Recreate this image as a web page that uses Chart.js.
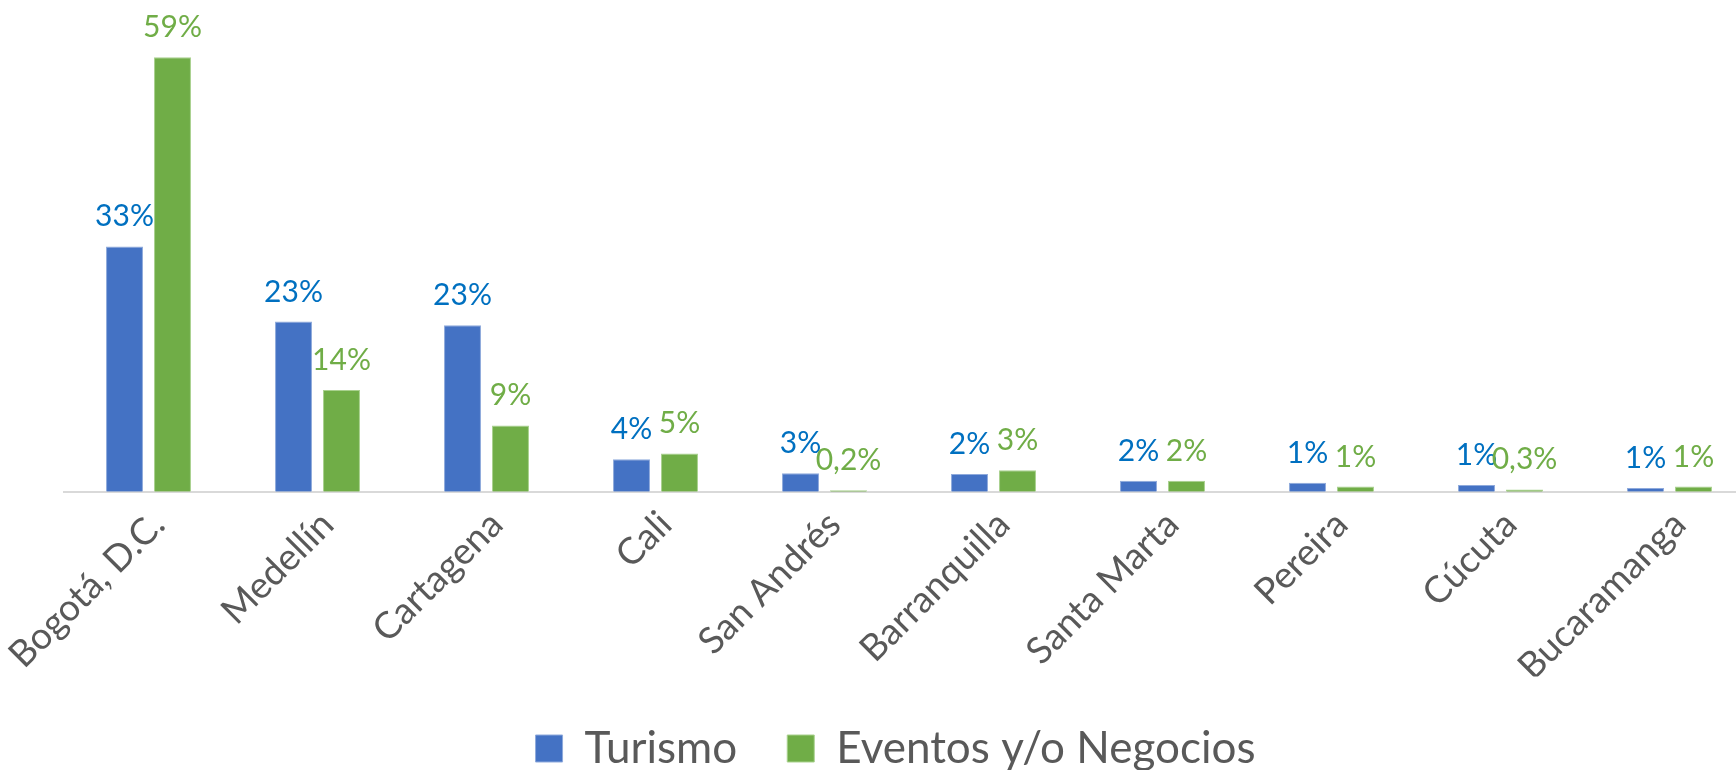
<!DOCTYPE html>
<html lang="es">
<head>
    <meta charset="UTF-8">
    <title>Turismo vs Eventos y/o Negocios</title>
    <script src="https://cdn.jsdelivr.net/npm/chart.js"></script>
    <style>
        html, body {
            margin: 0;
            padding: 0;
            background: #ffffff;
            overflow: hidden;
        }
        .wrap {
            position: relative;
            width: 1754px;
            height: 770px;
        }
    </style>
</head>
<body>
    <div class="wrap">
        <canvas id="cityChart"></canvas>
    </div>

    <script>
        const cities = ["Bogotá, D.C.", "Medellín", "Cartagena", "Cali", "San Andrés", "Barranquilla", "Santa Marta", "Pereira", "Cúcuta", "Bucaramanga"];
        const turismo = [33.3, 23.1, 22.6, 4.4, 2.5, 2.4, 1.5, 1.2, 0.9, 0.5];
        const eventos = [59.0, 13.8, 9.0, 5.2, 0.2, 2.9, 1.5, 0.7, 0.3, 0.7];
        const turismoLabels = ["33%", "23%", "23%", "4%", "3%", "2%", "2%", "1%", "1%", "1%"];
        const eventosLabels = ["59%", "14%", "9%", "5%", "0,2%", "3%", "2%", "1%", "0,3%", "1%"];

        const FONT = "Lato, 'Open Sans', sans-serif";

        // value labels above each bar
        const barLabels = {
            id: "barLabels",
            afterDatasetsDraw(chart) {
                const ctx = chart.ctx;
                chart.data.datasets.forEach((ds, i) => {
                    const meta = chart.getDatasetMeta(i);
                    meta.data.forEach((bar, j) => {
                        ctx.save();
                        ctx.font = "30px " + FONT;
                        ctx.fillStyle = ds.labelColor;
                        ctx.textAlign = "center";
                        ctx.textBaseline = "alphabetic";
                        ctx.fillText(ds.valueLabels[j], bar.x, bar.y - 20);
                        ctx.restore();
                    });
                });
            }
        };

        new Chart(document.getElementById("cityChart"), {
            type: "bar",
            data: {
                labels: cities,
                datasets: [
                    {
                        label: "Turismo",
                        data: turismo,
                        valueLabels: turismoLabels,
                        labelColor: "#0070c0",
                        backgroundColor: "#4472c4",
                        borderColor: "#8faadc",
                        borderWidth: 1,
                        categoryPercentage: 0.568,
                        barPercentage: 0.77
                    },
                    {
                        label: "Eventos y/o Negocios",
                        data: eventos,
                        valueLabels: eventosLabels,
                        labelColor: "#70ad47",
                        backgroundColor: "#70ad47",
                        borderColor: "#a9d18e",
                        borderWidth: 1,
                        categoryPercentage: 0.568,
                        barPercentage: 0.77
                    }
                ]
            },
            options: {
                responsive: true,
                maintainAspectRatio: false,
                animation: false,
                layout: { padding: { left: 37, right: 0, top: 10, bottom: -10.5 } },
                plugins: {
                    tooltip: { enabled: false },
                    legend: {
                        position: "bottom",
                        labels: {
                            boxWidth: 27,
                            boxHeight: 27,
                            padding: 50,
                            color: "#595959",
                            font: { family: FONT, size: 44 }
                        }
                    }
                },
                scales: {
                    x: {
                        grid: { display: false },
                        border: { display: true, color: "#d9d9d9", width: 2 },
                        ticks: {
                            autoSkip: false,
                            minRotation: 45,
                            maxRotation: 45,
                            padding: 3,
                            labelOffset: 10,
                            color: "#595959",
                            font: { family: FONT, size: 37 }
                        },
                        afterFit(scale) {
                            scale.height = 184.8;
                            scale.paddingLeft = 0;
                            scale.paddingRight = 0;
                        }
                    },
                    y: {
                        min: 0,
                        max: 65.4,
                        grid: { display: false },
                        border: { display: false },
                        ticks: { display: false },
                        afterFit(scale) { scale.width = 27; }
                    }
                }
            },
            plugins: [barLabels]
        });
    </script>
</body>
</html>
